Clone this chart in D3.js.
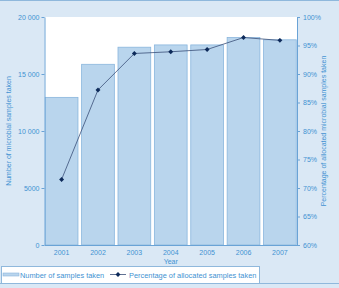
<!DOCTYPE html>
<html><head><meta charset="utf-8">
<script src="https://cdn.jsdelivr.net/npm/d3@7"></script>
<style>body{margin:0;background:#dae8f5;}svg{display:block;font-family:"Liberation Sans",Arial,sans-serif;}</style>
</head><body><svg id="c" width="339" height="288"></svg>
<script>
const years = ["2001","2002","2003","2004","2005","2006","2007"];
const samples = [12950, 15850, 17350, 17550, 17550, 18200, 18000];
const percent = [71.5, 87.2, 93.6, 93.9, 94.3, 96.4, 95.9];
const leftTicks = [0, 5000, 10000, 15000, 20000];
const leftTickLabels = ["0", "5000", "10 000", "15 000", "20 000"];
const rightTicks = [60, 65, 70, 75, 80, 85, 90, 95, 100];

const svg = d3.select("#c");
const W = 339, H = 288;
const m = {l: 44.5, r: 297, t: 17, b: 245};
const txt = "#4292d2", axc = "#6aa3d6";
svg.append("rect").attr("width", W).attr("height", H).attr("fill", "#dae8f5");
svg.append("line").attr("x1",0).attr("x2",W).attr("y1",0.5).attr("y2",0.5).attr("stroke","#8fb8dc");
svg.append("rect").attr("x", m.l).attr("y", m.t).attr("width", m.r - m.l).attr("height", m.b - m.t).attr("fill", "#fff");

const x = d3.scaleBand().domain(years).range([m.l, m.r]).paddingInner(0.1).paddingOuter(0.02);
const y = d3.scaleLinear().domain([0, 20000]).range([m.b, m.t]);
const y2 = d3.scaleLinear().domain([60, 100]).range([m.b, m.t]);

svg.append("g").selectAll("rect").data(years).join("rect")
  .attr("x", d => x(d)).attr("width", x.bandwidth())
  .attr("y", (d,i) => y(samples[i])).attr("height", (d,i) => m.b - y(samples[i]))
  .attr("fill", "#b9d5ed").attr("stroke", "#8ab6dd").attr("stroke-width", 0.8);

const ax = d3.axisLeft(y).tickValues(leftTicks).tickFormat((d,i) => leftTickLabels[i]).tickSize(3).tickSizeOuter(0);
const gl = svg.append("g").attr("transform", `translate(${m.l},0)`).call(ax);
const ar = d3.axisRight(y2).tickValues(rightTicks).tickFormat(d => d + "%").tickSize(3).tickSizeOuter(0);
const gr = svg.append("g").attr("transform", `translate(${m.r},0)`).call(ar);
const ab = d3.axisBottom(x).tickSize(0).tickSizeOuter(0);
const gb = svg.append("g").attr("transform", `translate(0,${m.b})`).call(ab);
[gl, gr, gb].forEach(g => {
  g.selectAll("path,line").attr("stroke", axc);
  g.selectAll("text").attr("fill", txt).style("font-size", "7px").style("font-family", "'Liberation Sans',Arial,sans-serif");
});
gb.selectAll("text").attr("dy", "1.05em");
gl.selectAll("text").attr("x", -5);
gr.selectAll("text").attr("x", 6);

const line = d3.line().x((d,i) => x(years[i]) + x.bandwidth()/2).y(d => y2(d));
svg.append("path").datum(percent).attr("d", line).attr("fill", "none").attr("stroke", "#3a4f78").attr("stroke-width", 0.8);
const diamond = d3.symbol().type(d3.symbolSquare).size(12);
svg.append("g").selectAll("path").data(percent).join("path")
  .attr("transform", (d,i) => `translate(${x(years[i]) + x.bandwidth()/2},${y2(d)}) rotate(45)`)
  .attr("d", diamond).attr("fill", "#0d2a5a");

svg.append("text").attr("transform", `translate(10.5,${(m.t+m.b)/2}) rotate(-90)`).attr("text-anchor","middle")
  .attr("fill", txt).style("font-size","7px").text("Number of microbial samples taken");
svg.append("text").attr("transform", `translate(326,${(m.t+m.b)/2}) rotate(-90)`).attr("text-anchor","middle")
  .attr("fill", txt).style("font-size","7px").text("Percentage of allocated microbial samples taken");
svg.append("text").attr("x", (m.l+m.r)/2).attr("y", 264).attr("text-anchor","middle")
  .attr("fill", txt).style("font-size","7px").text("Year");

// legend
svg.append("line").attr("x1",0).attr("x2",W).attr("y1",283.5).attr("y2",283.5).attr("stroke","#8fb8dc");
svg.append("rect").attr("x",1.5).attr("y",266.5).attr("width",258).attr("height",17).attr("fill","#fff").attr("stroke","#8fb8dc");
svg.append("rect").attr("x",3).attr("y",273).attr("width",16).attr("height",3).attr("fill","#b9d5ed").attr("stroke","#8ab6dd").attr("stroke-width",0.6);
svg.append("text").attr("x",20).attr("y",277.5).attr("fill",txt).style("font-size","7.4px").text("Number of samples taken");
svg.append("line").attr("x1",110).attr("x2",126).attr("y1",274.5).attr("y2",274.5).attr("stroke","#3a4f78").attr("stroke-width",0.8);
svg.append("path").attr("transform","translate(118,274.5) rotate(45)").attr("d",diamond).attr("fill","#0d2a5a");
svg.append("text").attr("x",129).attr("y",277.5).attr("fill",txt).style("font-size","7.4px").text("Percentage of allocated samples taken");
</script></body></html>
